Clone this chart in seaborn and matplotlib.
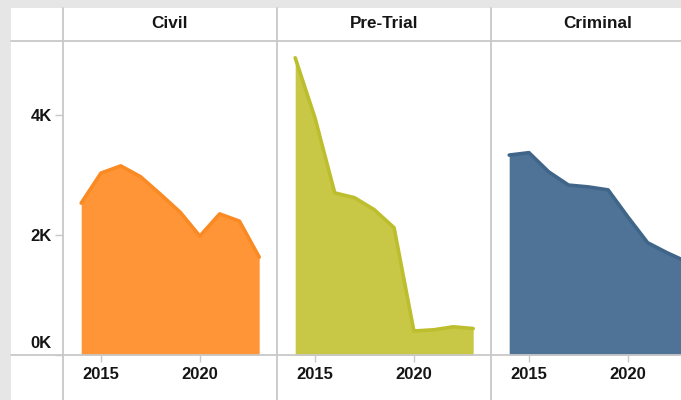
import pandas as pd
import seaborn as sns
import matplotlib.pyplot as plt
from matplotlib.lines import Line2D
from matplotlib.patches import Rectangle
from matplotlib.transforms import ScaledTranslation

years = [2014, 2015, 2016, 2017, 2018, 2019, 2020, 2021, 2022, 2023]
civil = [2530, 3030, 3150, 2970, 2680, 2380, 1980, 2350, 2230, 1630]
pre_trial = [4950, 3950, 2700, 2620, 2420, 2120, 400, 420, 470, 440]
criminal = [3330, 3370, 3050, 2830, 2800, 2750, 2300, 1870, 1700, 1550]

panels = ['Civil', 'Pre-Trial', 'Criminal']
series = [civil, pre_trial, criminal]
fills = ['#FF9536', '#C8C846', '#4F7396']
lines = ['#FA8A24', '#BDBE2E', '#3F6589']

sns.set_style('white')
plt.rcParams['font.family'] = ['Liberation Sans', 'DejaVu Sans']

W, H = 681, 400
fig = plt.figure(figsize=(W / 100, H / 100), dpi=100, facecolor='#e6e6e6')
fig.add_artist(Rectangle((11 / W, 0), 1, 1 - 8 / H, transform=fig.transFigure,
                         facecolor='white', edgecolor='none', zorder=0))

grid = '#c8c8c8'
txt = '#151515'
top, bottom = 41, 355
lefts = [63, 277, 491]
pw = 214

for i, name in enumerate(panels):
    ax = fig.add_axes([lefts[i] / W, 1 - bottom / H, pw / W, (bottom - top) / H])
    ax.patch.set_alpha(0)
    df = pd.DataFrame({'Year': years, 'Cases': series[i]})
    ax.fill_between(df['Year'], df['Cases'], color=fills[i], linewidth=0, zorder=1)
    sns.lineplot(data=df, x='Year', y='Cases', ax=ax, color=lines[i],
                 linewidth=2.6, zorder=2)
    ax.set_xlim(2013.08, 2023.9)
    ax.set_ylim(0, 5230)
    ax.set_xlabel('')
    ax.set_ylabel('')
    for s in ax.spines.values():
        s.set_visible(False)
    ax.set_xticks([2015, 2020])
    ax.set_xticklabels(['2015', '2020'], fontsize=12, fontweight='bold', color=txt)
    ax.tick_params(axis='x', length=5, width=1, color=grid, pad=3.5, bottom=True)
    ax.set_yticks([0, 2000, 4000])
    if i == 0:
        ax.set_yticklabels(['0K', '2K', '4K'], fontsize=12, fontweight='bold', color=txt)
        ax.tick_params(axis='y', length=6, width=1, color=grid, pad=2, left=True)
        zero = ax.get_yticklabels()[0]
        zero.set_va('bottom')
        zero.set_transform(zero.get_transform() + ScaledTranslation(0, 4 / 100, fig.dpi_scale_trans))
    else:
        ax.tick_params(axis='y', left=False, labelleft=False)
    fig.text((lefts[i] + pw / 2) / W, 1 - 24 / H, name, ha='center', va='center',
             fontsize=12.3, fontweight='bold', color=txt)

for x in lefts:
    fig.add_artist(Line2D([x / W, x / W], [0, 1 - 8 / H], color=grid, lw=1.3))
for y in [top, bottom]:
    fig.add_artist(Line2D([11 / W, 1], [1 - y / H, 1 - y / H], color=grid, lw=1.3))

fig.savefig('out.png', dpi=100, facecolor=fig.get_facecolor())
